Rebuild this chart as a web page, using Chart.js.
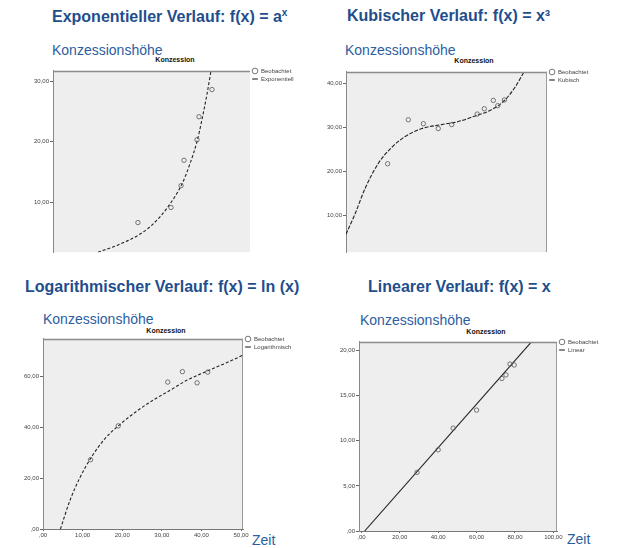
<!DOCTYPE html>
<html lang="de">
<head>
<meta charset="utf-8">
<title>Verläufe</title>
<script src="https://cdn.jsdelivr.net/npm/chart.js@4.4.1/dist/chart.umd.min.js"></script>
<style>
  body { margin: 0; background: #fff; width: 618px; height: 548px; overflow: hidden; position: relative; }
  canvas { position: absolute; }
  .t { position: absolute; white-space: nowrap; line-height: 1; font-family: "Liberation Sans", Arial, sans-serif; }
  .h { font-size: 16px; font-weight: bold; color: #1f4e8c; }
  .s { font-size: 14px; color: #2b5e9f; }
  .k { font-size: 7px; font-weight: bold; color: #111; transform: translateX(-50%); }
</style>
</head>
<body>
<div class="t h" style="left:52px;top:8px">Exponentieller Verlauf: f(x) = a<sup style="font-size:10px">x</sup></div>
<div class="t h" style="left:347px;top:8px">Kubischer Verlauf: f(x) = x³</div>
<div class="t h" style="left:25px;top:279px">Logarithmischer Verlauf: f(x) = ln (x)</div>
<div class="t h" style="left:368px;top:279px">Linearer Verlauf: f(x) = x</div>

<div class="t s" style="left:52px;top:43px">Konzessionshöhe</div>
<div class="t s" style="left:345px;top:43px">Konzessionshöhe</div>
<div class="t s" style="left:43px;top:312px">Konzessionshöhe</div>
<div class="t s" style="left:360px;top:313px">Konzessionshöhe</div>

<div class="t k" style="left:175px;top:56px">Konzession</div>
<div class="t k" style="left:474px;top:57px">Konzession</div>
<div class="t k" style="left:166px;top:327px">Konzession</div>
<div class="t k" style="left:486px;top:328px">Konzession</div>

<div class="t s" style="left:252px;top:533px">Zeit</div>
<div class="t s" style="left:567px;top:532px">Zeit</div>

<canvas id="c1" width="300" height="191" style="left:0;top:66px"></canvas>
<canvas id="c2" width="308" height="190" style="left:310px;top:67px"></canvas>
<canvas id="c3" width="300" height="211" style="left:0;top:334px"></canvas>
<canvas id="c4" width="308" height="210" style="left:310px;top:337px"></canvas>

<script>
// Exponentiell
const expObsX = [43.1, 59.9, 65.0, 66.5, 73.1, 74.1, 80.7];
const expObsY = [6.6, 9.1, 12.7, 16.9, 20.3, 24.1, 28.6];
const expFitX = [22.8, 32.3, 44.2, 50.9, 57.9, 65.5, 69.5, 73.1, 75.6, 78.2, 80.2];
const expFitY = [1.7, 2.8, 4.7, 6.4, 9.0, 13.0, 16.3, 20.0, 23.6, 27.9, 31.7];
const expYTicks = [10, 20, 30];

// Kubisch
const kubObsX = [20.7, 31.0, 38.5, 45.9, 52.6, 65.3, 68.8, 73.3, 75.5, 78.8];
const kubObsY = [21.7, 31.7, 30.8, 29.7, 30.6, 33.0, 34.2, 36.1, 34.9, 36.2];
const kubFitX = [0, 4.5, 9.5, 16.1, 22.7, 29.4, 37.7, 47.6, 55.9, 65.0, 72.5, 79.1, 84.1, 88.6];
const kubFitY = [5.7, 10.3, 16.1, 21.8, 25.4, 27.9, 29.7, 30.6, 31.3, 32.7, 34.0, 36.2, 39.1, 42.6];
const kubYTicks = [10, 20, 30, 40];

// Logarithmisch
const logObsX = [12.0, 19.0, 31.5, 35.2, 38.9, 41.6];
const logObsY = [27.2, 40.5, 57.7, 61.8, 57.4, 61.6];
const logFitX = [4.4, 6.8, 9.3, 12.3, 15.6, 19.0, 23.7, 27.9, 32.1, 36.3, 41.4, 46.5, 50.5];
const logFitY = [0, 11.2, 20.1, 28.4, 35.4, 40.5, 46.3, 50.7, 54.5, 58.4, 62.0, 65.4, 68.3];
const logXTicks = [0, 10, 20, 30, 40, 50];
const logYTicks = [0, 20, 40, 60];

// Linear
const linObsX = [29.0, 40.0, 47.8, 60.0, 73.2, 75.3, 77.4, 79.6];
const linObsY = [6.5, 9.0, 11.4, 13.4, 16.9, 17.3, 18.5, 18.4];
const linFitX = [1.7, 88.7];
const linFitY = [0, 21.0];
const linXTicks = [0, 20, 40, 60, 80, 100];
const linYTicks = [0, 5, 10, 15, 20];

const FONT = '"Liberation Sans", Arial, sans-serif';

const zip = (xs, ys) => xs.map((x, i) => ({ x: x, y: ys[i] }));
const fmt = v => v === 0 ? ',00' : v.toFixed(2).replace('.', ',');

// grauer Plotbereich mit Rahmenlinie oben
const plotBg = {
  id: 'plotBg',
  beforeDraw(chart, args, opts) {
    const { ctx, chartArea: a } = chart;
    ctx.save();
    ctx.fillStyle = '#eeeeee';
    ctx.fillRect(a.left, a.top, a.width, a.height);
    ctx.restore();
  },
  afterDraw(chart, args, opts) {
    const { ctx, chartArea: a } = chart;
    ctx.save();
    ctx.strokeStyle = '#8c8c8c';
    ctx.lineWidth = 1.5;
    ctx.beginPath();
    ctx.moveTo(a.left, a.top + 0.75);
    ctx.lineTo(a.right, a.top + 0.75);
    ctx.stroke();
    if (opts.right) {
      ctx.lineWidth = 1;
      ctx.strokeStyle = '#9a9a9a';
      ctx.beginPath();
      ctx.moveTo(a.right - 0.5, a.top);
      ctx.lineTo(a.right - 0.5, a.bottom);
      ctx.stroke();
    }
    ctx.restore();
  }
};

function legendWidth(w) {
  return {
    id: 'legendWidth',
    beforeInit(chart) {
      const fit = chart.legend.fit;
      chart.legend.fit = function () {
        fit.call(this);
        this.width = w;
      };
    }
  };
}

function panel(id, o) {
  const xAxis = {
    type: 'linear', min: o.xMin, max: o.xMax, display: !!o.xTicks,
    grid: { drawOnChartArea: false, drawTicks: true, tickLength: 2, color: '#666' },
    border: { display: true, color: '#777' },
    ticks: { font: { size: 6, family: FONT }, color: '#444', padding: 1, maxRotation: 0, autoSkip: false, callback: fmt },
    afterBuildTicks: ax => { if (o.xTicks) ax.ticks = o.xTicks.map(v => ({ value: v })); },
    afterFit: ax => { ax.height = o.xH || 0; ax.paddingLeft = 0; ax.paddingRight = 0; }
  };
  new Chart(document.getElementById(id), {
    type: 'scatter',
    data: {
      datasets: [
        {
          label: 'Beobachtet',
          data: zip(o.obsX, o.obsY),
          pointStyle: 'circle',
          pointRadius: 2.2,
          pointBorderWidth: 0.8,
          pointBorderColor: '#555',
          pointBackgroundColor: 'rgba(0,0,0,0)',
          borderColor: '#555',
          backgroundColor: 'rgba(0,0,0,0)'
        },
        {
          label: o.fitName,
          data: zip(o.fitX, o.fitY),
          showLine: true,
          pointRadius: 0,
          pointStyle: 'line',
          borderColor: '#222',
          borderWidth: 1.1,
          borderDash: o.dash,
          cubicInterpolationMode: 'monotone'
        }
      ]
    },
    options: {
      responsive: false,
      animation: false,
      layout: { padding: 0 },
      scales: {
        x: xAxis,
        y: {
          type: 'linear', min: o.yMin, max: o.yMax,
          grid: { drawOnChartArea: false, drawTicks: true, tickLength: 3, color: '#666' },
          border: { display: true, color: '#888' },
          ticks: { font: { size: 6, family: FONT }, color: '#444', padding: 1, callback: fmt },
          afterBuildTicks: ax => { ax.ticks = o.yTicks.map(v => ({ value: v })); },
          afterFit: ax => { ax.width = o.yW; ax.paddingTop = 0; ax.paddingBottom = 0; }
        }
      },
      plugins: {
        plotBg: { right: o.rightBorder },
        tooltip: { enabled: false },
        legend: {
          position: 'right',
          align: 'start',
          labels: {
            font: { size: 6, family: FONT, lineHeight: 1 },
            color: '#444',
            usePointStyle: true,
            boxHeight: 4,
            padding: 2
          }
        }
      }
    },
    plugins: [plotBg, legendWidth(o.legW)]
  });
}

panel('c1', {
  obsX: expObsX, obsY: expObsY, fitX: expFitX, fitY: expFitY, fitName: 'Exponentiell',
  xMin: 0, xMax: 100, yMin: 1.7, yMax: 31.7, yTicks: expYTicks,
  yW: 53, legW: 50, dash: [3, 2], rightBorder: false
});
panel('c2', {
  obsX: kubObsX, obsY: kubObsY, fitX: kubFitX, fitY: kubFitY, fitName: 'Kubisch',
  xMin: 0, xMax: 100, yMin: 1.6, yMax: 42.6, yTicks: kubYTicks,
  yW: 36, legW: 71, dash: [4, 1.5], rightBorder: true
});
panel('c3', {
  obsX: logObsX, obsY: logObsY, fitX: logFitX, fitY: logFitY, fitName: 'Logarithmisch',
  xMin: 0, xMax: 50.5, yMin: 0, yMax: 74.7, yTicks: logYTicks, xTicks: logXTicks, xH: 16,
  yW: 43, legW: 57, dash: [3, 2], rightBorder: true
});
panel('c4', {
  obsX: linObsX, obsY: linObsY, fitX: linFitX, fitY: linFitY, fitName: 'Linear',
  xMin: -1.25, xMax: 101.9, yMin: 0, yMax: 20.97, yTicks: linYTicks, xTicks: linXTicks, xH: 16,
  yW: 49, legW: 61, dash: [], rightBorder: true
});
</script>
</body>
</html>
